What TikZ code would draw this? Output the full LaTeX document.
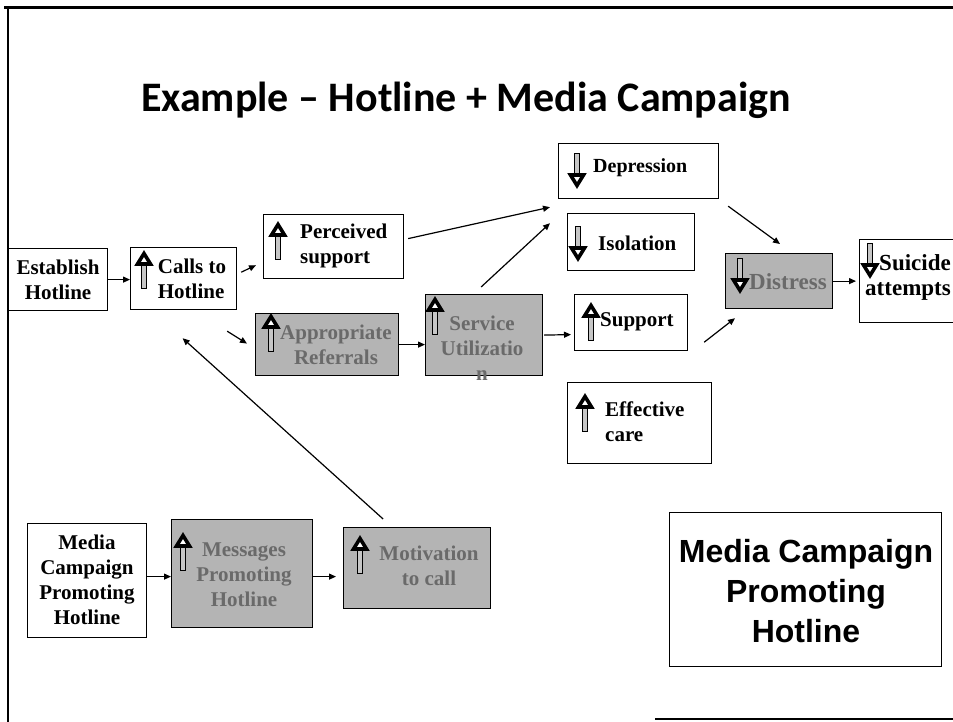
\documentclass[tikz,border=0pt]{standalone}
\usepackage{fontspec}
\setmainfont{Liberation Serif}
\newfontfamily\titlefont{Carlito}
\newfontfamily\arialfont{Liberation Sans}
\usetikzlibrary{arrows.meta,calc}

\definecolor{boxgray}{HTML}{B4B4B4}
\definecolor{shadetext}{HTML}{6A6A6A}

\tikzset{
  box/.style={draw=black, line width=1.2pt, fill=white, inner sep=0pt, anchor=north west},
  shadebox/.style={box, fill=boxgray},
  lbl/.style={font=\bfseries\fontsize{21}{25}\selectfont, align=center, inner sep=0pt, text=black},
  leftlbl/.style={lbl, align=left, anchor=west},
  biglbl/.style={lbl, font=\bfseries\fontsize{23}{25}\selectfont},
  shadelbl/.style={lbl, text=shadetext},
  conn/.style={-{Triangle[length=7pt,width=6pt]}, line width=1.2pt},
  icohead/.style={draw=black, line width=3.6pt, fill=white, line join=miter},
  icoshaft/.style={draw=black, line width=0.8pt, fill=gray!45},
  upicon/.pic={
    \draw[icoshaft] (-2.2,14) rectangle (2.2,38);
    \draw[icohead] (0,3.5) -- (6.5,14) -- (-6.5,14) -- cycle;
  },
  downicon/.pic={
    \draw[icoshaft] (-2.2,0) rectangle (2.2,22);
    \draw[icohead] (-6.5,22) -- (6.5,22) -- (0,32.5) -- cycle;
  }
}

\begin{document}
\begin{tikzpicture}[x=1pt, y=-1pt]
\useasboundingbox (0,0) rectangle (953,722);
\clip (0,0) rectangle (953,722);
\fill[white] (0,0) rectangle (953,722);

% slide frame
\draw[line width=3pt] (4,8) -- (953,8);
\draw[line width=2.5pt] (8,8) -- (8,722);
\draw[line width=2pt] (655,719) -- (953,719);

% title
\node[inner sep=0pt, font=\titlefont\bfseries\fontsize{42}{50}\selectfont] (title) at (466,100) {Example – Hotline + Media Campaign};

% hotline chain
\node[box, minimum width=99pt, minimum height=62pt] (establish) at (8,248) {};
\node[lbl] (establishT) at (58,280) {Establish\\Hotline};

\node[box, minimum width=106pt, minimum height=62pt] (calls) at (130,247) {};
\node[lbl, align=left] (callsT) at (192,279) {Calls to\\Hotline};
\pic at (144,250) {upicon};

\node[box, minimum width=140pt, minimum height=64pt] (perceived) at (263,214) {};
\node[leftlbl] (perceivedT) at (300,246) {Perceived\\support};
\pic at (278,221) {upicon};

\node[shadebox, minimum width=143pt, minimum height=62pt] (appropriate) at (255,313) {};
\node[shadelbl] (appropriateT) at (336,345) {Appropriate\\Referrals};
\pic at (271,313) {upicon};

\node[shadebox, minimum width=117pt, minimum height=81pt] (service) at (425,294) {};
\node[shadelbl] (serviceT) at (482,348) {Service\\Utilizatio\\n};
\pic at (435,296) {upicon};

% outcomes
\node[box, minimum width=160pt, minimum height=55pt] (depression) at (558,143) {};
\node[leftlbl, font=\bfseries\fontsize{20}{24}\selectfont] (depressionT) at (593,168) {Depression};
\pic at (577,153) {downicon};

\node[box, minimum width=127pt, minimum height=57pt] (isolation) at (567,213) {};
\node[leftlbl] (isolationT) at (598,243) {Isolation};
\pic at (578,226) {downicon};

\node[box, minimum width=113pt, minimum height=56pt] (support) at (574,294) {};
\node[leftlbl] (supportT) at (600,322) {Support};
\pic at (591,302) {upicon};

\node[box, minimum width=144pt, minimum height=81pt] (effective) at (567,382) {};
\node[leftlbl] (effectiveT) at (605,422) {Effective\\care};
\pic at (585,393) {upicon};

\node[shadebox, minimum width=107pt, minimum height=55pt] (distress) at (725,253) {};
\node[biglbl, anchor=west, text=shadetext] (distressT) at (749,282) {Distress};
\pic at (740,258) {downicon};

\node[box, minimum width=115pt, minimum height=83pt] (suicide) at (859,239) {};
\node[biglbl, align=right, anchor=east] (suicideT) at (951,277) {Suicide\\attempts};
\pic at (870,243) {downicon};

% media campaign chain
\node[box, minimum width=119pt, minimum height=114pt] (media) at (27,523) {};
\node[lbl] (mediaT) at (87,580) {Media\\Campaign\\Promoting\\Hotline};

\node[shadebox, minimum width=141pt, minimum height=108pt] (messages) at (171,519) {};
\node[shadelbl] (messagesT) at (244,575) {Messages\\Promoting\\Hotline};
\pic at (183,532) {upicon};

\node[shadebox, minimum width=147pt, minimum height=81pt] (motivation) at (343,527) {};
\node[shadelbl] (motivationT) at (429,566) {Motivation\\to call};
\pic at (360,535) {upicon};

% legend box
\node[box, minimum width=272pt, minimum height=154pt] (legend) at (669,512) {};
\node[lbl, font=\arialfont\bfseries\fontsize{32}{40}\selectfont] (legendT) at (806,591) {Media Campaign\\Promoting\\Hotline};

% connectors
\draw[conn] (establish.east) -- (establish.east -| calls.west);
\draw[conn] ($(calls.south east)+(4,-38)$) -- ($(perceived.south west)+(-7,-14)$);
\draw[conn] ($(calls.south east)+(-10,21)$) -- ($(appropriate.west)+(-8,-1)$);
\draw[conn] ($(perceived.east)+(4,-8)$) -- ($(depression.south west)+(-8,8)$);
\draw[conn] ($(service.north)+(-3,-7)$) -- ($(depression.south west)+(-8,24)$);
\draw[conn] (appropriate.east) -- (appropriate.east -| service.west);
\draw[conn] ($(service.east)+(1,0)$) -- ($(support.west)+(-3,12)$);
\draw[conn] ($(depression.south east)+(9,7)$) -- ($(distress.north west)+(55,-9)$);
\draw[conn] ($(support.south east)+(16,-9)$) -- ($(distress.south west)+(10,9)$);
\draw[conn] (distress.east) -- ($(distress.east -| suicide.west)+(-3,0)$);
\draw[conn] ($(media.east)+(0,-4)$) -- ($(media.east -| messages.west)+(0,-4)$);
\draw[conn] ($(messages.east)+(0,3)$) -- ($(messages.east -| motivation.west)+(-7,3)$);
\draw[conn] ($(motivation.north)+(-34,-8)$) -- ($(calls.south)+(-1,28)$);
\end{tikzpicture}
\end{document}
